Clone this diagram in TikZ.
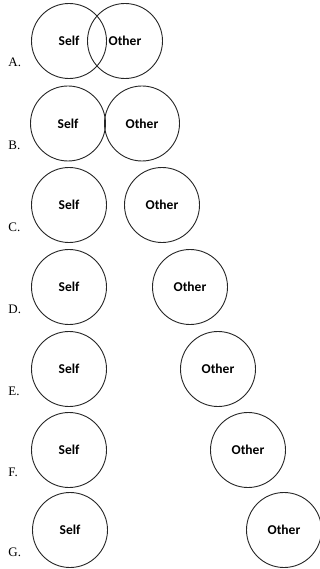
\documentclass[tikz,border=0pt]{standalone}
\usepackage{fontspec}
\setmainfont{Liberation Serif}
\setsansfont{Carlito}
\begin{document}
\begin{tikzpicture}[x=1pt, y=-1pt,
    every node/.style={circle, draw=black!85, line width=0.9pt, minimum size=75pt, inner sep=0pt,
      font=\sffamily\bfseries\fontsize{13.5}{16}\selectfont},
    lab/.style={draw=none, rectangle, minimum size=0pt, anchor=base west,
      font=\rmfamily\fontsize{13}{15}\selectfont}]
  \useasboundingbox (0,0) rectangle (320,569);
  % A: overlapping
  \node (selfA) at (69,41) {Self};
  \node (otherA) at (125,41) {Other};
  \node[lab] (labA) at (8,67) {A.};
  % B: touching
  \node (selfB) at (68,123.5) {Self};
  \node (otherB) at (142,123.5) {Other};
  \node[lab] (labB) at (8,150) {B.};
  % C
  \node (selfC) at (69,205) {Self};
  \node (otherC) at (162,205) {Other};
  \node[lab] (labC) at (8,231) {C.};
  % D
  \node (selfD) at (69,287) {Self};
  \node (otherD) at (190,287) {Other};
  \node[lab] (labD) at (8,313) {D.};
  % E
  \node (selfE) at (69,369) {Self};
  \node (otherE) at (218,369) {Other};
  \node[lab] (labE) at (8,395) {E.};
  % F
  \node (selfF) at (69,450) {Self};
  \node (otherF) at (248,450) {Other};
  \node[lab] (labF) at (8,476) {F.};
  % G: far apart
  \node (selfG) at (70,530) {Self};
  \node (otherG) at (284,530) {Other};
  \node[lab] (labG) at (8,556) {G.};
\end{tikzpicture}
\end{document}
